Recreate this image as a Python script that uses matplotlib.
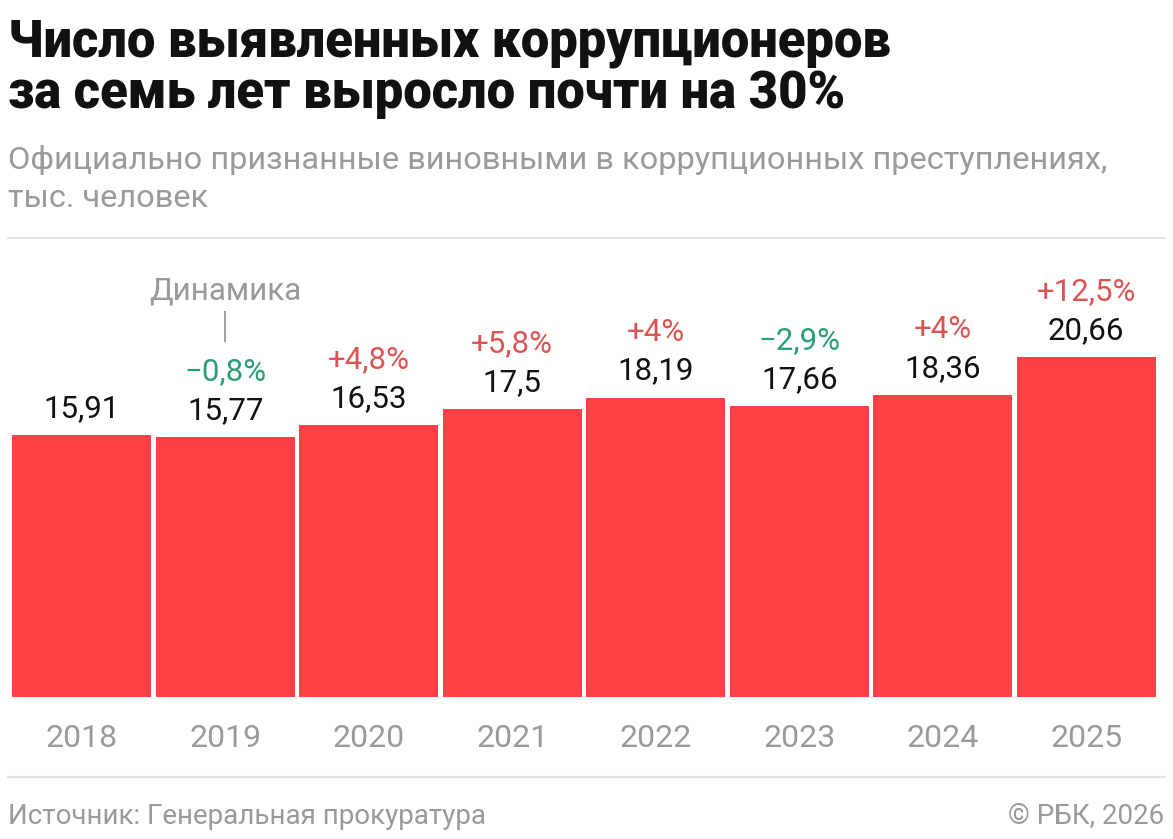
import matplotlib
matplotlib.use("Agg")
import matplotlib.pyplot as plt
from matplotlib.lines import Line2D

years = ["2018", "2019", "2020", "2021", "2022", "2023", "2024", "2025"]
values = [15.91, 15.77, 16.53, 17.5, 18.19, 17.66, 18.36, 20.66]
value_labels = ["15,91", "15,77", "16,53", "17,5", "18,19", "17,66", "18,36", "20,66"]
changes = [None, "−0,8%", "+4,8%", "+5,8%", "+4%", "−2,9%", "+4%", "+12,5%"]
change_sign = [0, -1, 1, 1, 1, -1, 1, 1]

W, H = 1173, 839
plt.rcParams['font.family'] = ['Roboto', 'DejaVu Sans']
fig = plt.figure(figsize=(W / 100, H / 100), dpi=100)
fig.patch.set_facecolor("white")

def fx(px):
    return px / W

def fy(py):
    return 1 - py / H

# axes in pixel geometry
left, right, bottom, top = 10, 1158, 697, 257
ax = fig.add_axes([fx(left), fy(bottom), fx(right - left), (bottom - top) / H])
scale = 16.46  # px per unit
ax.set_ylim(0, (bottom - top) / scale)
ax.set_xlim(-0.5, len(years) - 0.5)
ax.axis("off")

BAR = "#FF4045"
RED = "#DB5454"
GREEN = "#2A9E74"
GRAY = "#9A9A9A"

x = list(range(len(years)))
ax.bar(x, values, width=0.972, color=BAR, edgecolor="none")

px_unit = 1 / scale
for i, v in enumerate(values):
    ax.text(i, v + 18 * px_unit, value_labels[i], ha="center", va="baseline",
            fontsize=22.5, color="#111111")
    if changes[i]:
        ax.text(i, v + 57 * px_unit, changes[i], ha="center", va="baseline",
                fontsize=22.5, color=GREEN if change_sign[i] < 0 else RED)
    ax.text(i, -50 * px_unit, years[i], ha="center", va="baseline",
            fontsize=23, color=GRAY, clip_on=False)

# "Динамика" annotation over 2019
ax.text(1, values[1] + 138 * px_unit, "Динамика", ha="center", va="baseline",
        fontsize=22.7, color=GRAY)
ax.plot([1, 1], [values[1] + 95 * px_unit, values[1] + 126 * px_unit],
        color=GRAY, lw=1.3, solid_capstyle="butt")

# Title & subtitle
fig.text(fx(8), fy(56), "Число выявленных коррупционеров", fontsize=36.5,
         fontweight="black", color="#111111", va="baseline")
fig.text(fx(8), fy(108), "за семь лет выросло почти на 30%", fontsize=36.5,
         fontweight="black", color="#111111", va="baseline")
fig.text(fx(8), fy(169), "Официально признанные виновными в коррупционных преступлениях,",
         fontsize=23.4, color=GRAY, va="baseline")
fig.text(fx(8), fy(207), "тыс. человек", fontsize=23.4, color=GRAY, va="baseline")

# separator lines
for yy in (238, 777):
    fig.add_artist(Line2D([fx(8), fx(1165)], [fy(yy), fy(yy)], color="#E3E3E3", lw=1.5))

# footer
fig.text(fx(8), fy(824), "Источник: Генеральная прокуратура", fontsize=20,
         color=GRAY, va="baseline")
fig.text(fx(1164), fy(824), "© РБК, 2026", fontsize=20, color=GRAY,
         va="baseline", ha="right")

fig.savefig("out.png", dpi=100, facecolor="white")
